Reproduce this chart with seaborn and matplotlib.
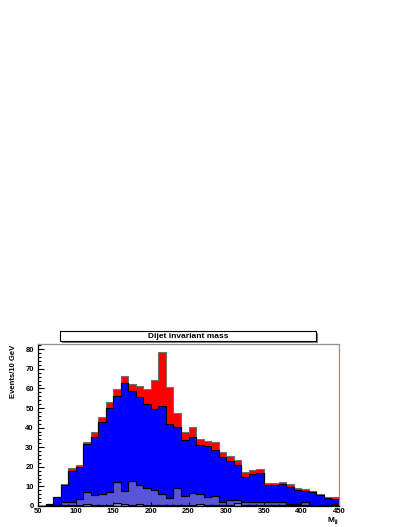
import numpy as np
import pandas as pd
import seaborn as sns
import matplotlib.pyplot as plt
from matplotlib.patches import Rectangle
from matplotlib.ticker import MultipleLocator

plt.rcParams['font.family'] = ['Liberation Sans', 'DejaVu Sans']
plt.rcParams['mathtext.fontset'] = 'custom'
plt.rcParams['mathtext.bf'] = 'Liberation Sans:bold'

# dijet invariant mass, 10 GeV bins from 50 to 450
bin_lo = list(range(50, 450, 10))

# per-sample counts in each bin (stacked, top to bottom)
red_evts = [0, 0, 0.1, 0.3, 1.2, 1.1, 1.0, 2.2, 2.4, 3.1,
            3.8, 3.4, 3.5, 5.7, 7.7, 14.5, 27.7, 18.8, 7.3, 4.4,
            5.3, 3.3, 2.8, 3.9, 2.9, 2.2, 2.5, 2.4, 2.3, 2.0,
            1.0, 0.8, 1.2, 1.1, 1.2, 0.6, 0.9, 0.3, 0.3, 0.8]
blue_evts = [0, 0.7, 4.1, 8.9, 16.2, 16.2, 24.4, 29.9, 36.8, 43.1,
             43.8, 55.0, 45.6, 44.8, 42.9, 41.2, 45.1, 37.6, 30.8, 28.2,
             28.4, 24.9, 25.8, 23.4, 22.7, 20.0, 17.8, 12.8, 14.0, 14.7,
             8.5, 8.7, 9.0, 9.0, 7.3, 5.9, 6.4, 5.3, 3.6, 2.8]
purple_evts = [0, 0.3, 0.5, 1.6, 1.6, 3.3, 6.4, 5.2, 6.0, 6.7,
               10.8, 7.0, 12.7, 9.7, 8.6, 8.1, 5.7, 4.0, 9.1, 5.0,
               6.5, 5.2, 4.3, 5.0, 1.8, 2.8, 1.8, 1.9, 1.9, 1.8,
               1.8, 1.8, 1.8, 0.6, 0.6, 1.7, 0.3, 0.2, 0.2, 0.7]
steel_evts = [0, 0, 0, 0.3, 0.3, 0.3, 1.0, 0.3, 0.3, 0.3,
              1.3, 0.9, 0.3, 1.2, 0.5, 0.3, 0.3, 0.3, 0.3, 0.3,
              0.3, 1.0, 0.3, 0.3, 0.3, 0.3, 1.3, 0.3, 0.3, 0.3,
              0.3, 0.3, 0.3, 0.3, 0.3, 0.3, 0.3, 0.3, 0.3, 0.3]

samples = ['red', 'blue', 'purple', 'steel']
colours = {'red': '#ff0000', 'blue': '#0000ff', 'purple': '#5954d8', 'steel': '#7d99d1'}

rows = []
for name, vals in zip(samples, [red_evts, blue_evts, purple_evts, steel_evts]):
    for lo, v in zip(bin_lo, vals):
        rows.append({'mjj': lo + 5, 'events': v, 'sample': name})
df = pd.DataFrame(rows)

fig = plt.figure(figsize=(4.07, 5.27), dpi=100)
ax = fig.add_axes([38/407, 1 - 506/527, (339-38)/407, (506-344)/527])

sns.histplot(data=df, x='mjj', weights='events', hue='sample', hue_order=samples,
             multiple='stack', element='step', binwidth=10, binrange=(50, 450),
             palette=colours, alpha=1, linewidth=0.8, edgecolor='black',
             legend=False, ax=ax)

# ROOT style: grey outline on the top histogram, kept under the others
for coll in ax.collections:
    fc = coll.get_facecolor()
    if len(fc) and fc[0][0] > 0.9 and fc[0][2] < 0.1:
        coll.set_edgecolor('#707070')
        coll.set_zorder(0.8)

ax.set_xlim(50, 450)
ax.set_ylim(0, 82.7)
ax.set_xlabel('')
ax.set_ylabel('')

ax.xaxis.set_major_locator(MultipleLocator(50))
ax.xaxis.set_minor_locator(MultipleLocator(10))
ax.yaxis.set_major_locator(MultipleLocator(10))
ax.yaxis.set_minor_locator(MultipleLocator(2))
ax.tick_params(axis='both', which='both', direction='in', labelsize=5.5, width=0.8)
ax.tick_params(axis='y', which='major', length=4.5, pad=3)
ax.tick_params(axis='y', which='minor', length=2.2)
ax.tick_params(axis='x', which='major', length=3, pad=1.5)
ax.tick_params(axis='x', which='minor', length=1.5)
for lab in ax.get_xticklabels() + ax.get_yticklabels():
    lab.set_fontweight('bold')

ax.spines['left'].set_color('black')
ax.spines['bottom'].set_color('black')
ax.spines['top'].set_color('#909090')
ax.spines['right'].set_color('#e07070')
for s in ax.spines.values():
    s.set_linewidth(0.9)

# title box with shadow
fig.patches.append(Rectangle((62/407, 1 - 343/527), 256/407, 10/527, transform=fig.transFigure,
                             facecolor='#808080', edgecolor='none'))
fig.patches.append(Rectangle((60/407, 1 - 341/527), 256/407, 10/527, transform=fig.transFigure,
                             facecolor='white', edgecolor='black', linewidth=0.8))
fig.text(188/407, 1 - 336/527, 'Dijet invariant mass', ha='center', va='center',
         fontsize=6, fontweight='bold')

fig.text(14/407, 1 - 345/527, 'Events/10 GeV', rotation=90, ha='center', va='top',
         fontsize=5.5, fontweight='bold')
fig.text(339/407, 1 - 516/527, r'$\mathbf{M}_{\mathbf{jj}}$', ha='right', va='top',
         fontsize=6)

fig.savefig('out.png', dpi=100)
